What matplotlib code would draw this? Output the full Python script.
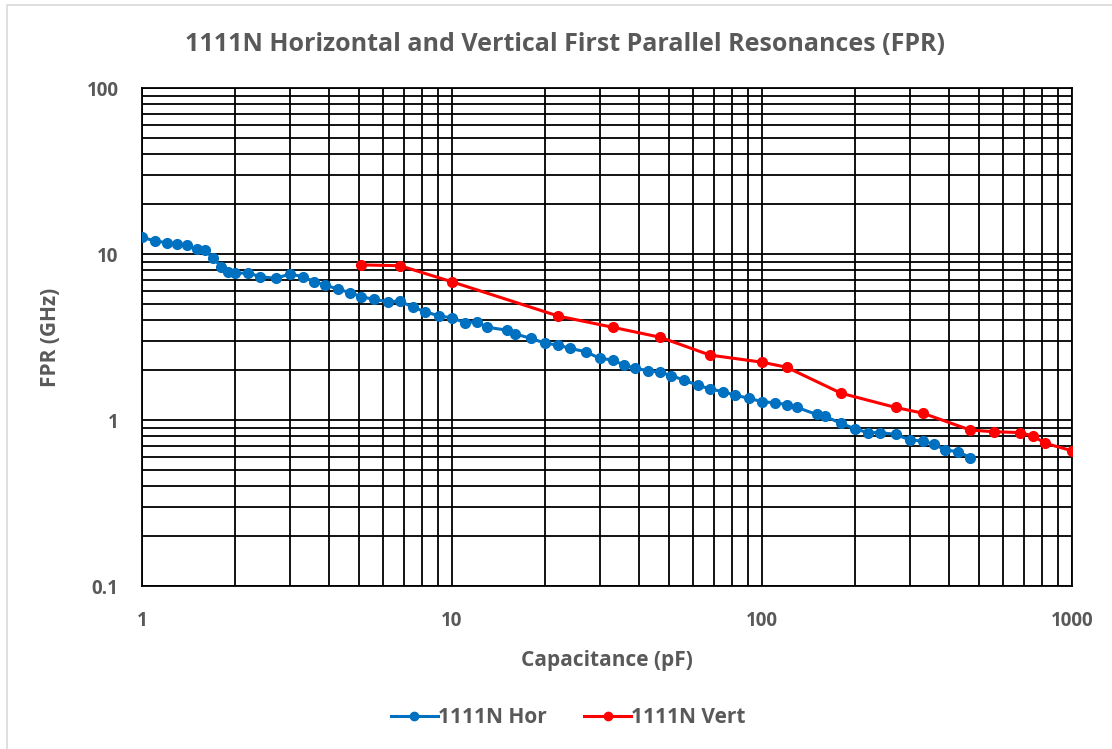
import matplotlib.pyplot as plt
from matplotlib.ticker import LogLocator, FixedLocator, FixedFormatter, NullFormatter
from matplotlib.lines import Line2D

# capacitance (pF) and first parallel resonance (GHz)
hor_cap = [1, 1.1, 1.2, 1.3, 1.4, 1.5, 1.6, 1.7, 1.8, 1.9, 2.0, 2.2, 2.4, 2.7,
           3.0, 3.3, 3.6, 3.9, 4.3, 4.7, 5.1, 5.6, 6.2, 6.8, 7.5, 8.2, 9.1,
           10, 11, 12, 13, 15, 16, 18, 20, 22, 24, 27, 30, 33, 36, 39, 43, 47,
           51, 56, 62, 68, 75, 82, 91, 100, 110, 120, 130, 150, 160, 180, 200,
           220, 240, 270, 300, 330, 360, 390, 430, 470]
hor_fpr = [12.6, 12.0, 11.7, 11.5, 11.3, 10.7, 10.5, 9.4, 8.4, 7.8, 7.65, 7.7,
           7.3, 7.14, 7.58, 7.3, 6.8, 6.5, 6.13, 5.85, 5.53, 5.33, 5.16, 5.2,
           4.77, 4.49, 4.23, 4.13, 3.86, 3.91, 3.62, 3.48, 3.30, 3.10, 2.90,
           2.83, 2.70, 2.58, 2.35, 2.30, 2.14, 2.05, 1.98, 1.94, 1.85, 1.74,
           1.62, 1.54, 1.48, 1.41, 1.35, 1.29, 1.27, 1.24, 1.19, 1.08, 1.05,
           0.955, 0.883, 0.839, 0.839, 0.82, 0.758, 0.747, 0.714, 0.66, 0.644,
           0.593]

vert_cap = [5.1, 6.8, 10, 22, 33, 47, 68, 100, 120, 180, 270, 330, 470, 560,
            680, 750, 820, 1000]
vert_fpr = [8.6, 8.5, 6.8, 4.23, 3.62, 3.15, 2.46, 2.23, 2.08, 1.45, 1.19,
            1.10, 0.87, 0.85, 0.84, 0.80, 0.724, 0.653]

x_ticks = [1, 10, 100, 1000]
x_tick_labels = ['1', '10', '100', '1000']
y_ticks = [0.1, 1, 10, 100]
y_tick_labels = ['0.1', '1', '10', '100']

plt.rcParams['font.family'] = ['Open Sans', 'DejaVu Sans']
label_color = '#595959'

fig = plt.figure(figsize=(11.12, 7.49), dpi=100)
# light chart-area edge along the left and top
fig.add_artist(Line2D([0.0065, 0.0065, 1.0], [0.0, 0.993, 0.993],
                      transform=fig.transFigure, color='#d9d9d9', linewidth=1.2))
ax = fig.add_axes([0.1277, 0.2176, 0.8363, 0.6649])

ax.plot(hor_cap, hor_fpr, color='#0070c0', marker='o', markersize=7,
        linewidth=2.2, label='1111N Hor', zorder=3)
ax.plot(vert_cap, vert_fpr, color='#ff0000', marker='o', markersize=7,
        linewidth=2.2, label='1111N Vert', zorder=3)

ax.set_xscale('log')
ax.set_yscale('log')
ax.set_xlim(1, 1000)
ax.set_ylim(0.1, 100)

ax.xaxis.set_major_locator(FixedLocator(x_ticks))
ax.xaxis.set_major_formatter(FixedFormatter(x_tick_labels))
ax.yaxis.set_major_locator(FixedLocator(y_ticks))
ax.yaxis.set_major_formatter(FixedFormatter(y_tick_labels))
ax.xaxis.set_minor_locator(LogLocator(base=10, subs=range(2, 10)))
ax.yaxis.set_minor_locator(LogLocator(base=10, subs=range(2, 10)))
ax.xaxis.set_minor_formatter(NullFormatter())
ax.yaxis.set_minor_formatter(NullFormatter())

ax.grid(which='both', color='black', linewidth=1.3)
ax.tick_params(which='both', length=0)
ax.tick_params(axis='x', pad=18, labelsize=13.5, labelcolor=label_color)
ax.tick_params(axis='y', pad=17, labelsize=13.5, labelcolor=label_color)
for lbl in ax.get_xticklabels() + ax.get_yticklabels():
    lbl.set_fontweight('bold')
for s in ax.spines.values():
    s.set_color('black')
    s.set_linewidth(1.3)

ax.set_xlabel('Capacitance (pF)', fontsize=15, fontweight='bold',
              color=label_color, labelpad=14)
ax.set_ylabel('FPR (GHz)', fontsize=15, fontweight='bold',
              color=label_color, labelpad=18)
fig.text(0.508, 0.94, '1111N Horizontal and Vertical First Parallel Resonances (FPR)',
         ha='center', va='center', fontsize=18, fontweight='bold', color=label_color)

leg = fig.legend(loc='center', bbox_to_anchor=(0.511, 0.042), ncol=2, frameon=False,
                 fontsize=15, handlelength=2.25, columnspacing=1.8, handletextpad=0.0)
for t in leg.get_texts():
    t.set_fontweight('bold')
    t.set_color(label_color)
for h in leg.legend_handles:
    h.set_markersize(6)

fig.savefig('out.png', dpi=100)
